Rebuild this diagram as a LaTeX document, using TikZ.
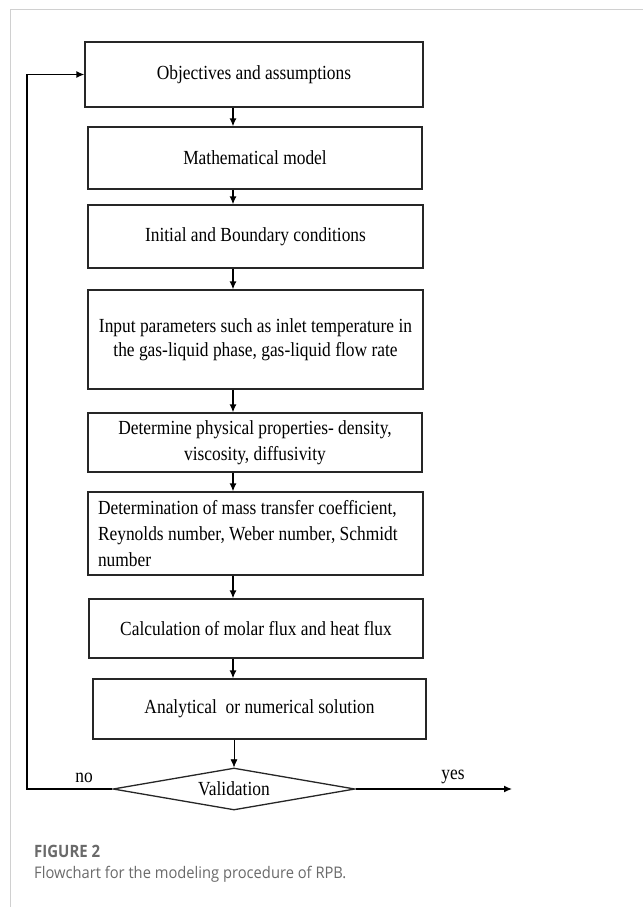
\documentclass[tikz,border=0pt]{standalone}
\usepackage{fontspec}
\setmainfont{Liberation Serif}[FakeStretch=0.87]
\newfontfamily\capfont{Open Sans}[FakeStretch=0.92]
\newfontfamily\figfont{Open Sans}[FakeStretch=0.88]
\usetikzlibrary{shapes.geometric,arrows.meta}
\definecolor{capgray}{HTML}{6A6A6A}
\definecolor{framegray}{HTML}{D0D0D0}
\begin{document}
\begin{tikzpicture}[x=1pt,y=-1pt,
  box/.style={draw=black!85,line width=1.3pt,rectangle,inner sep=0pt,font=\fontsize{20}{24}\selectfont,align=center},
  flow/.style={line width=1.3pt,-{Latex[length=8pt,width=7pt]}},
  lbl/.style={font=\fontsize{20}{24}\selectfont,inner sep=0pt}]
\useasboundingbox (0,0) rectangle (643,907);
\fill[white] (0,0) rectangle (643,907);
\draw[framegray,line width=1pt] (10,907) -- (10,10) -- (643,10);

\node[box,minimum width=338pt,minimum height=65pt] (b1) at (254,74.5) {Objectives and assumptions};
\node[box,minimum width=334pt,minimum height=62pt] (b2) at (255,158) {Mathematical model};
\node[box,minimum width=335pt,minimum height=63pt] (b3) at (255.5,236.5) {Initial and Boundary conditions};
\node[box,minimum width=335pt,minimum height=99pt] (b4) at (255.5,339.5) {Input parameters such as inlet temperature in\\the gas-liquid phase, gas-liquid flow rate};
\node[box,minimum width=334pt,minimum height=59pt,font=\fontsize{20}{26}\selectfont] (b5) at (255,442.5) {Determine physical properties- density,\\viscosity, diffusivity};
\node[box,minimum width=335pt,minimum height=83pt,align=flush left,font=\fontsize{20}{26}\selectfont,text width=315pt] (b6) at (255.5,533.5) {Determination of mass transfer coefficient,\\Reynolds number, Weber number, Schmidt\\number};
\node[box,minimum width=334pt,minimum height=59pt] (b7) at (256,628.5) {Calculation of molar flux and heat flux};
\node[box,minimum width=333pt,minimum height=60pt] (b8) at (259.5,709) {Analytical\ \ or numerical solution};
\node[draw=black!85,line width=1.3pt,diamond,aspect=5.76,minimum width=242pt,minimum height=42pt,inner sep=0pt,font=\fontsize{20}{24}\selectfont] (dia) at (234,789) {Validation};

\coordinate (ax) at (233,0);
\draw[flow] (b1.south -| ax) -- (b2.north -| ax);
\draw[flow] (b2.south -| ax) -- (b3.north -| ax);
\draw[flow] (b3.south -| ax) -- (b4.north -| ax);
\draw[flow] (b4.south -| ax) -- (b5.north -| ax);
\draw[flow] (b5.south -| ax) -- (b6.north -| ax);
\draw[flow] (b6.south -| ax) -- (b7.north -| ax);
\draw[flow] (b7.south -| ax) -- (b8.north -| ax);
\coordinate (ax2) at (234,0);
\draw[line width=0.6pt,-{Latex[length=8pt,width=7pt]}] (b8.south -| ax2) -- (dia.north);

\coordinate (lx) at (27,0);
\draw[flow] (dia.west) -- (dia.west -| lx) |- (b1.west);
\coordinate (yesend) at (512,789);
\draw[flow] (dia.east) -- (yesend);

\node[lbl] (no) at (84,778) {no};
\node[lbl] (yes) at (453,777) {yes};

\node[anchor=west,inner sep=0pt,text=capgray,font=\figfont\bfseries\fontsize{17}{20}\selectfont] (fig) at (34,851) {FIGURE 2};
\node[anchor=west,inner sep=0pt,text=capgray,font=\capfont\fontsize{16}{20}\selectfont] (cap) at (34,874) {Flowchart for the modeling procedure of RPB.};
\end{tikzpicture}
\end{document}
